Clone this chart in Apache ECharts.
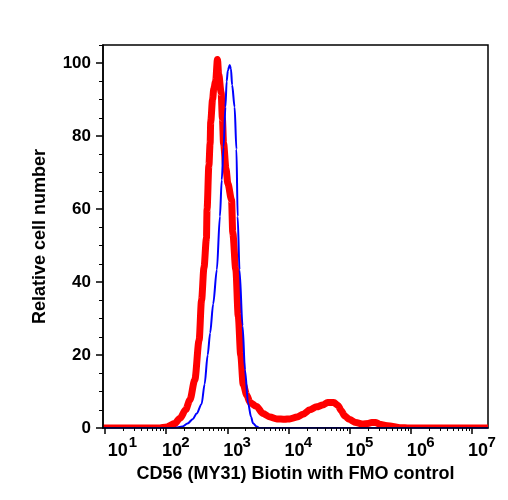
<!DOCTYPE html>
<html>
<head>
<meta charset="utf-8">
<script src="https://cdn.jsdelivr.net/npm/echarts@6/dist/echarts.min.js"></script>
<style>
  html, body { margin: 0; padding: 0; background: #fff; }
  #chart { width: 508px; height: 500px; }
</style>
</head>
<body>
<div id="chart"></div>
<script>
// x values are in decades (log10 of intensity), y is relative cell number
const sampleLogX = [0.97, 1.5, 1.9, 2.01, 2.14, 2.23, 2.32, 2.39, 2.47, 2.54, 2.58, 2.62, 2.66, 2.67, 2.70, 2.72,
  2.73, 2.76, 2.78, 2.81, 2.84, 2.86, 2.90, 2.92, 2.94, 2.98, 3.01, 3.07, 3.09, 3.14, 3.18, 3.22, 3.26, 3.32,
  3.37, 3.48, 3.58, 3.70, 3.81, 3.94, 4.02, 4.14, 4.24, 4.35, 4.46, 4.56, 4.64, 4.74, 4.81, 4.86, 4.92, 5.00,
  5.10, 5.22, 5.30, 5.36, 5.43, 5.49, 5.59, 5.71, 5.82, 5.98, 7.26];
const sampleCount = [0, 0, 0, 0.3, 1.2, 2.7, 5.0, 7.7, 13.2, 24, 35, 44, 52, 60, 72, 78,
  84, 90, 93, 95, 101, 97, 92, 85, 78, 71, 67, 62.6, 53.5, 43.4, 30.6, 20, 12, 9,
  7, 5.9, 4, 3, 2.5, 2.4, 2.5, 3.0, 3.8, 5.0, 5.8, 6.3, 7.0, 7.0, 6.2, 4.8, 3.3, 2.3,
  1.5, 1.1, 1.2, 1.5, 1.5, 1.0, 0.7, 0.4, 0.1, 0, 0];

const fmoLogX = [0.97, 1.5, 2.0, 2.14, 2.27, 2.35, 2.44, 2.50, 2.58, 2.63, 2.68, 2.72, 2.77, 2.83, 2.88, 2.91,
  2.94, 2.97, 2.99, 3.01, 3.04, 3.06, 3.08, 3.12, 3.15, 3.17, 3.20, 3.25, 3.29, 3.34, 3.39, 3.42, 3.48, 3.53, 7.26];
const fmoCount = [0, 0, 0, 0, 0.4, 1.2, 2.5, 4, 6.5, 12, 20, 26, 34, 43.4, 58, 68,
  77, 88, 95, 98, 99.5, 98.5, 94, 88, 76.4, 58, 43.4, 28, 15.9, 6.8, 3, 1.3, 0.4, 0, 0];

const xMajorExp = [1, 2, 3, 4, 5, 6, 7];
const yMajorTicks = [0, 20, 40, 60, 80, 100];
const yMinorTicks = [5, 10, 15, 25, 30, 35, 45, 50, 55, 65, 70, 75, 85, 90, 95, 105];

const xMin = 0.97, xMax = 7.26;
const font = '"Liberation Sans", Arial, Helvetica, sans-serif';

// log minor ticks (2..9 in each decade)
let xMinorTicks = [];
for (let d = 0; d <= 7; d++) {
  for (let k = 2; k <= 9; k++) {
    let v = d + Math.log10(k);
    if (v > xMin && v < xMax) xMinorTicks.push(v);
  }
}

const chart = echarts.init(document.getElementById('chart'));

const txt = {fontWeight: 'bold', fontFamily: font, color: '#000'};

const option = {
  animation: false,
  backgroundColor: '#fff',
  grid: {
    left: 103, right: 20, top: 45, bottom: 72,
    show: true, borderColor: '#000', borderWidth: 1.5, backgroundColor: 'transparent'
  },
  xAxis: [
    { // major ticks + "10"
      type: 'value', min: xMin, max: xMax, position: 'bottom', z: 10,
      name: 'CD56 (MY31) Biotin with FMO control',
      nameLocation: 'middle', nameGap: 37,
      nameTextStyle: Object.assign({fontSize: 18}, txt),
      axisLine: {show: true, onZero: false, lineStyle: {color: '#000', width: 1.5}},
      axisTick: {show: true, inside: false, length: 6, customValues: xMajorExp, lineStyle: {color: '#000', width: 1.5}},
      axisLabel: {
        customValues: xMajorExp,
        margin: 14,
        formatter: v => (v === 1 ? '{a1|10}' : '{a|10}'),
        rich: {
          a: Object.assign({fontSize: 18, padding: [0, 0, 0, 12]}, txt),
          a1: Object.assign({fontSize: 18, padding: [0, 0, 0, 26]}, txt)
        }
      },
      splitLine: {show: false}
    },
    { // minor ticks + exponent
      type: 'value', min: xMin, max: xMax, position: 'bottom', z: 10,
      axisLine: {show: false},
      axisTick: {show: true, inside: false, length: 3, customValues: xMinorTicks, lineStyle: {color: '#000', width: 1}},
      axisLabel: {
        customValues: xMajorExp,
        margin: 7,
        formatter: v => (v === 1 ? '{e1|' + v + '}' : '{e|' + v + '}'),
        rich: {
          e: Object.assign({fontSize: 15, padding: [0, 0, 0, 39]}, txt),
          e1: Object.assign({fontSize: 15, padding: [0, 0, 0, 56]}, txt)
        }
      },
      splitLine: {show: false}
    }
  ],
  yAxis: [
    {
      type: 'value', min: 0, max: 105, position: 'left', z: 10,
      name: 'Relative cell number',
      nameLocation: 'middle', nameGap: 54,
      nameTextStyle: Object.assign({fontSize: 18}, txt),
      axisLine: {show: true, lineStyle: {color: '#000', width: 1.5}},
      axisTick: {show: true, inside: false, length: 7, customValues: yMajorTicks, lineStyle: {color: '#000', width: 1.5}},
      axisLabel: Object.assign({customValues: yMajorTicks, margin: 12, fontSize: 17}, txt),
      splitLine: {show: false}
    },
    {
      type: 'value', min: 0, max: 105, position: 'left', z: 10,
      axisLine: {show: false},
      axisTick: {show: true, inside: false, length: 4, customValues: yMinorTicks, lineStyle: {color: '#000', width: 1}},
      axisLabel: {show: false},
      splitLine: {show: false}
    }
  ],
  // white strip under the x axis so thick lines at 0 look cut by the axis
  graphic: [{
    type: 'rect', z: 5,
    shape: {x: 98, y: 428.8, width: 395, height: 6},
    style: {fill: '#fff'}
  }],
  series: [
    {
      name: 'CD56',
      type: 'line',
      data: sampleLogX.map((x, i) => [x, sampleCount[i]]),
      showSymbol: false,
      smooth: 0.3,
      smoothMonotone: 'x',
      lineStyle: {color: '#ff0000', width: 7, join: 'round'},
      z: 2
    },
    {
      name: 'FMO',
      type: 'line',
      data: fmoLogX.map((x, i) => [x, fmoCount[i]]),
      showSymbol: false,
      smooth: 0.3,
      smoothMonotone: 'x',
      lineStyle: {color: '#0000ff', width: 2, join: 'round'},
      z: 3
    }
  ]
};

chart.setOption(option);
</script>
</body>
</html>
